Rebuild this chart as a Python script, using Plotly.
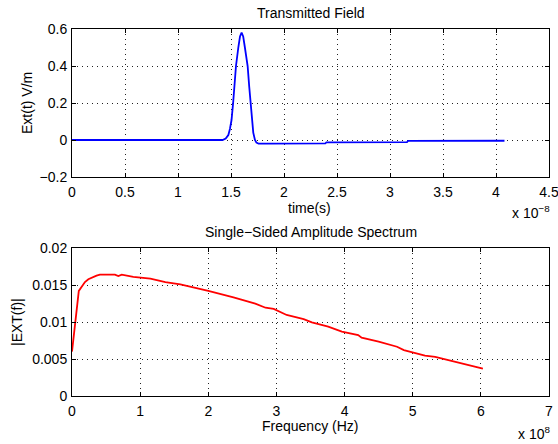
import plotly.graph_objects as go

# Transmitted field: time in units of 1e-8 s, field in V/m
time_e8 = [0, 1.42, 1.45, 1.475, 1.49, 1.505, 1.52, 1.53, 1.547, 1.57, 1.585, 1.60, 1.615,
           1.63, 1.645, 1.657, 1.672, 1.685, 1.695, 1.71, 1.726, 1.74, 1.76, 1.80, 1.85,
           2.39, 2.40, 3.16, 3.17, 4.08]
field = [0, 0, 0.008, 0.027, 0.06, 0.108, 0.2, 0.288, 0.4, 0.504, 0.56, 0.58, 0.56,
         0.504, 0.45, 0.4, 0.288, 0.19, 0.108, 0.04, 0.0, -0.014, -0.02, -0.021, -0.02,
         -0.018, -0.013, -0.012, -0.005, -0.004]

# Spectrum: frequency in units of 1e8 Hz
freq_e8 = [0, 0.10, 0.19, 0.24, 0.36, 0.41, 0.55, 0.63, 0.68, 0.73, 0.9, 1.15, 1.37, 1.59,
           2.0, 2.37, 2.69, 2.84, 2.96, 3.15, 3.40, 3.52, 3.76, 3.96, 4.2, 4.25, 4.50,
           4.77, 4.87, 5.01, 5.18, 5.33, 5.55, 5.75, 5.84, 6.03]
amp = [0.006, 0.0142, 0.0154, 0.01577, 0.01626, 0.0164, 0.0164, 0.0164, 0.0162, 0.0164,
       0.0161, 0.01586, 0.0154, 0.0151, 0.0142, 0.01334, 0.01247, 0.01193, 0.01176,
       0.01095, 0.0104, 0.00996, 0.00937, 0.0087, 0.00824, 0.00788, 0.00734, 0.00666,
       0.0062, 0.00585, 0.00545, 0.0053, 0.00477, 0.00428, 0.00415, 0.00369]

x1_ticks = [0, 0.5, 1, 1.5, 2, 2.5, 3, 3.5, 4, 4.5]
x1_text = ["0", "0.5", "1", "1.5", "2", "2.5", "3", "3.5", "4", "4.5"]
y1_ticks = [-0.2, 0, 0.2, 0.4, 0.6]
y1_text = ["\u22120.2", "0", "0.2", "0.4", "0.6"]
x2_ticks = [0, 1, 2, 3, 4, 5, 6, 7]
x2_text = ["0", "1", "2", "3", "4", "5", "6", "7"]
y2_ticks = [0, 0.005, 0.01, 0.015, 0.02]
y2_text = ["0", "0.005", "0.01", "0.015", "0.02"]

W, H = 558, 444
FONT = "Liberation Sans, Arial, Helvetica, sans-serif"
FS = 14

fig = go.Figure()
fig.add_trace(go.Scatter(x=time_e8, y=field, mode="lines",
                         line=dict(color="#0000ff", width=1.8), xaxis="x", yaxis="y"))
fig.add_trace(go.Scatter(x=freq_e8, y=amp, mode="lines",
                         line=dict(color="#ff0000", width=1.8), xaxis="x2", yaxis="y2"))

def px_x(p):
    return p / W

def px_y(p):
    return 1 - p / H

axis_common = dict(showline=True, linecolor="black", linewidth=1, mirror="ticks",
                   ticks="inside", ticklen=4, tickcolor="black", showgrid=True,
                   gridcolor="#222222", griddash="1px,4px", gridwidth=1, zeroline=False,
                   automargin=False, ticklabeloverflow="allow",
                   tickfont=dict(family=FONT, size=FS, color="black"), fixedrange=True)

dom_x = [px_x(72), px_x(549)]
fig.update_layout(
    width=W, height=H, margin=dict(l=0, r=0, t=0, b=0, pad=0, autoexpand=False),
    paper_bgcolor="white", plot_bgcolor="white", showlegend=False,
    font=dict(family=FONT, color="black"),
    xaxis=dict(domain=dom_x, range=[0, 4.5], tickvals=x1_ticks, ticktext=x1_text,
               anchor="y", ticklabelstandoff=2, **axis_common),
    yaxis=dict(domain=[px_y(177), px_y(29)], range=[-0.2, 0.6], tickvals=y1_ticks,
               ticktext=y1_text, anchor="x", ticklabelstandoff=1, **axis_common),
    xaxis2=dict(domain=dom_x, range=[0, 7], tickvals=x2_ticks, ticktext=x2_text,
                anchor="y2", ticklabelstandoff=2, **axis_common),
    yaxis2=dict(domain=[px_y(396), px_y(248)], range=[0, 0.02], tickvals=y2_ticks,
                ticktext=y2_text, anchor="x2", ticklabelstandoff=1, **axis_common),
)

def ann(text, x, y, size=FS, angle=0, xanchor="center"):
    fig.add_annotation(text=text, x=px_x(x), y=px_y(y), xref="paper", yref="paper",
                       showarrow=False, textangle=angle, xanchor=xanchor, yanchor="middle",
                       font=dict(family=FONT, size=size, color="black"))

ann("Transmitted Field", 310.5, 13)
ann("time(s)", 309, 208)
ann("x 10<sup>\u22128</sup>", 552, 212, xanchor="right")
ann("Ext(t) V/m", 27, 103, angle=-90)
ann("Single\u2212Sided Amplitude Spectrum", 310.5, 232)
ann("Frequency (Hz)", 310, 426)
ann("x 10<sup>8</sup>", 552, 433, xanchor="right")
ann("|EXT(f)|", 17, 322, angle=-90)

fig.write_html("out.html", config={"displayModeBar": False},
               post_script="document.body.style.margin='0';document.body.style.padding='0';"
                           "document.documentElement.style.overflow='hidden';")
